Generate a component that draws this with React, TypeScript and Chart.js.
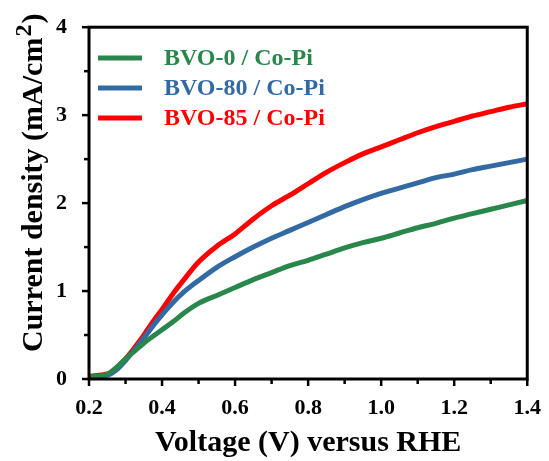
import React, { useEffect, useRef } from "react";
import { Chart, registerables } from "chart.js";

Chart.register(...registerables);

const voltage = [0.2, 0.22, 0.24, 0.26, 0.28, 0.3, 0.32, 0.34, 0.36, 0.38, 0.4, 0.43, 0.46, 0.5, 0.55, 0.6, 0.65, 0.7, 0.75, 0.8, 0.85, 0.9, 0.95, 1.0, 1.05, 1.1, 1.15, 1.2, 1.25, 1.3, 1.35, 1.4];
const bvo0 = [0.02, 0.03, 0.04, 0.08, 0.15, 0.23, 0.3, 0.37, 0.44, 0.5, 0.56, 0.65, 0.75, 0.86, 0.95, 1.04, 1.13, 1.21, 1.29, 1.35, 1.42, 1.49, 1.55, 1.6, 1.66, 1.72, 1.77, 1.83, 1.88, 1.93, 1.98, 2.03];
const bvo80 = [0.01, 0.02, 0.03, 0.06, 0.12, 0.21, 0.31, 0.41, 0.52, 0.63, 0.73, 0.87, 0.99, 1.12, 1.27, 1.39, 1.5, 1.6, 1.69, 1.78, 1.87, 1.96, 2.04, 2.11, 2.17, 2.23, 2.29, 2.33, 2.38, 2.42, 2.46, 2.5];
const bvo85 = [0.03, 0.04, 0.05, 0.07, 0.14, 0.23, 0.33, 0.44, 0.56, 0.68, 0.79, 0.97, 1.13, 1.33, 1.51, 1.65, 1.82, 1.97, 2.09, 2.22, 2.35, 2.46, 2.56, 2.64, 2.72, 2.8, 2.87, 2.93, 2.99, 3.04, 3.09, 3.13];

const seriesLabels = ["BVO-0 / Co-Pi", "BVO-80 / Co-Pi", "BVO-85 / Co-Pi"];
const seriesColors = ["#2a874c", "#336aa3", "#ff0000"];
const xTitle = "Voltage (V) versus RHE";
const yTitleMain = "Current density (mA/cm";
const yTitleSup = "2";
const yTitleEnd = ")";

const SERIF = "'Liberation Serif', 'Times New Roman', serif";

const framePlugin = {
  id: "frameTicks",
  afterDraw(chart: any) {
    const { ctx, chartArea: a, scales } = chart;
    const xs = scales.x;
    const ys = scales.y;
    ctx.save();
    ctx.strokeStyle = "#000";
    ctx.lineWidth = 3;
    ctx.strokeRect(a.left, a.top, a.right - a.left, a.bottom - a.top);
    ctx.lineWidth = 2.5;
    for (let i = 0; i <= 12; i++) {
      const v = 0.2 + i * 0.1;
      const px = xs.getPixelForValue(v);
      const len = i % 2 === 0 ? 7 : 5;
      ctx.beginPath();
      ctx.moveTo(px, a.bottom);
      ctx.lineTo(px, a.bottom + len);
      ctx.stroke();
    }
    for (let i = 0; i <= 8; i++) {
      const v = i * 0.5;
      const py = ys.getPixelForValue(v);
      const len = i % 2 === 0 ? 7 : 5;
      ctx.beginPath();
      ctx.moveTo(a.left, py);
      ctx.lineTo(a.left - len, py);
      ctx.stroke();
    }
    // legend
    const rowY = [58, 88, 118];
    chart.data.datasets.forEach((ds: any, i: number) => {
      ctx.strokeStyle = ds.borderColor;
      ctx.lineWidth = 5;
      ctx.beginPath();
      ctx.moveTo(98, rowY[i]);
      ctx.lineTo(142, rowY[i]);
      ctx.stroke();
      ctx.fillStyle = ds.borderColor;
      ctx.font = "bold 24px " + SERIF;
      ctx.textBaseline = "middle";
      ctx.textAlign = "left";
      ctx.fillText(ds.label, 164, rowY[i] + 1);
    });
    // y title with superscript
    ctx.fillStyle = "#000";
    ctx.translate(42, 352);
    ctx.rotate(-Math.PI / 2);
    ctx.textBaseline = "alphabetic";
    ctx.textAlign = "left";
    ctx.font = "bold 30px " + SERIF;
    ctx.fillText(yTitleMain, 0, 0);
    let w = ctx.measureText(yTitleMain).width;
    ctx.font = "bold 24px " + SERIF;
    ctx.fillText(yTitleSup, w + 1, -11);
    w += ctx.measureText(yTitleSup).width + 2;
    ctx.font = "bold 30px " + SERIF;
    ctx.fillText(yTitleEnd, w, 0);
    ctx.restore();
  },
};

export default function App() {
  const ref = useRef<HTMLCanvasElement>(null);
  useEffect(() => {
    if (!ref.current) return;
    const mk = (vals: number[]) => voltage.map((v, i) => ({ x: v, y: vals[i] }));
    const chart = new Chart(ref.current, {
      type: "line",
      data: {
        datasets: [bvo0, bvo80, bvo85].map((vals, i) => ({
          label: seriesLabels[i],
          data: mk(vals),
          borderColor: seriesColors[i],
          backgroundColor: seriesColors[i],
          borderWidth: 5,
          pointRadius: 0,
          cubicInterpolationMode: "monotone" as const,
          fill: false,
        })),
      },
      options: {
        animation: false,
        responsive: false,
        events: [],
        layout: { padding: { left: 0, right: 19, top: 23, bottom: 0 } },
        plugins: { legend: { display: false }, tooltip: { enabled: false } },
        scales: {
          x: {
            type: "linear",
            min: 0.2,
            max: 1.4,
            grid: { display: false },
            border: { display: false },
            ticks: {
              stepSize: 0.2,
              padding: 8,
              color: "#000",
              font: { family: SERIF, size: 22, weight: "bold" },
              callback: (v: any) => Number(v).toFixed(1),
              maxRotation: 0,
            },
            title: {
              display: true,
              text: xTitle,
              color: "#000",
              font: { family: SERIF, size: 30, weight: "bold" },
              padding: { top: 0, bottom: 0 },
            },
            afterFit: (s: any) => {
              s.height = 82;
            },
          },
          y: {
            type: "linear",
            min: 0,
            max: 4,
            grid: { display: false },
            border: { display: false },
            ticks: {
              stepSize: 1,
              padding: 14,
              color: "#000",
              font: { family: SERIF, size: 22, weight: "bold" },
            },
            afterFit: (s: any) => {
              s.width = 89;
            },
          },
        },
      },
      plugins: [framePlugin],
    });
    return () => chart.destroy();
  }, []);
  return (
    <div style={{ position: "fixed", left: 0, top: 0, width: 549, height: 461, background: "#fff" }}>
      <canvas ref={ref} width={549} height={461} style={{ width: 549, height: 461 }} />
    </div>
  );
}
